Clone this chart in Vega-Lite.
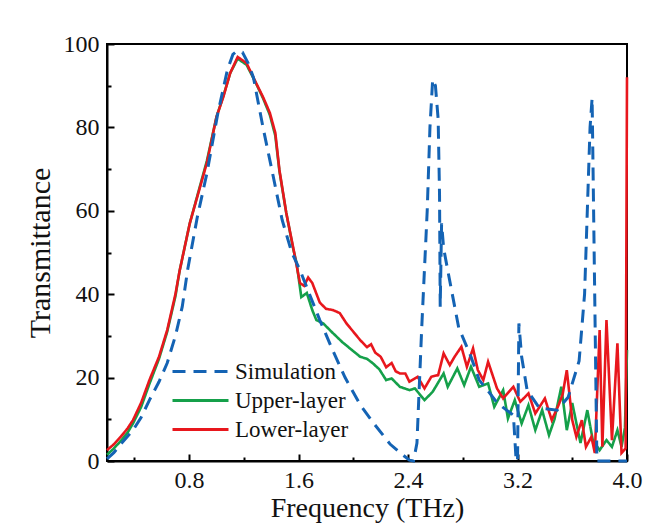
{
  "$schema": "https://vega.github.io/schema/vega-lite/v6.json",
  "width": 520,
  "height": 417,
  "autosize": {"type": "none"},
  "padding": {"left": 107, "top": 44, "right": 27, "bottom": 71},
  "background": "white",
  "config": {
    "font": "Liberation Serif, serif",
    "view": {"stroke": "black", "strokeWidth": 2},
    "text": {"font": "Liberation Serif, serif"},
    "axis": {
      "labelFont": "Liberation Serif, serif",
      "titleFont": "Liberation Serif, serif",
      "labelColor": "#111",
      "titleColor": "#111",
      "titleFontWeight": "normal",
      "domainColor": "black",
      "domainWidth": 2,
      "tickColor": "black",
      "tickWidth": 2,
      "grid": false
    },
    "legend": {"labelFont": "Liberation Serif, serif"}
  },
  "datasets": {
    "curves": [
      {"f": 0.2, "T": 0.5, "s": "Simulation"}, {"f": 0.25, "T": 2, "s": "Simulation"}, {"f": 0.3, "T": 4, "s": "Simulation"}, {"f": 0.39, "T": 7.4, "s": "Simulation"}, {"f": 0.45, "T": 10.5, "s": "Simulation"}, {"f": 0.51, "T": 14.6, "s": "Simulation"}, {"f": 0.58, "T": 19, "s": "Simulation"}, {"f": 0.64, "T": 23.5, "s": "Simulation"}, {"f": 0.7, "T": 30, "s": "Simulation"}, {"f": 0.75, "T": 37, "s": "Simulation"}, {"f": 0.79, "T": 46, "s": "Simulation"}, {"f": 0.86, "T": 58.5, "s": "Simulation"}, {"f": 0.93, "T": 69, "s": "Simulation"}, {"f": 1.01, "T": 83.4, "s": "Simulation"}, {"f": 1.08, "T": 93.8, "s": "Simulation"}, {"f": 1.12, "T": 97.5, "s": "Simulation"}, {"f": 1.15, "T": 98.3, "s": "Simulation"}, {"f": 1.19, "T": 98, "s": "Simulation"}, {"f": 1.23, "T": 95.5, "s": "Simulation"}, {"f": 1.27, "T": 92, "s": "Simulation"}, {"f": 1.34, "T": 80, "s": "Simulation"}, {"f": 1.41, "T": 69, "s": "Simulation"}, {"f": 1.48, "T": 57.8, "s": "Simulation"}, {"f": 1.55, "T": 50, "s": "Simulation"}, {"f": 1.61, "T": 45.8, "s": "Simulation"}, {"f": 1.68, "T": 40, "s": "Simulation"}, {"f": 1.755, "T": 33.8, "s": "Simulation"}, {"f": 1.85, "T": 26.5, "s": "Simulation"}, {"f": 1.94, "T": 20, "s": "Simulation"}, {"f": 2.05, "T": 13.5, "s": "Simulation"}, {"f": 2.15, "T": 9, "s": "Simulation"}, {"f": 2.27, "T": 4, "s": "Simulation"}, {"f": 2.36, "T": 1.5, "s": "Simulation"}, {"f": 2.41, "T": 0.2, "s": "Simulation"}, {"f": 2.44, "T": 0, "s": "Simulation"}, {"f": 2.465, "T": 4.3, "s": "Simulation"}, {"f": 2.5, "T": 32, "s": "Simulation"}, {"f": 2.54, "T": 60, "s": "Simulation"}, {"f": 2.56, "T": 80, "s": "Simulation"}, {"f": 2.58, "T": 91.5, "s": "Simulation"}, {"f": 2.6, "T": 90, "s": "Simulation"}, {"f": 2.62, "T": 82, "s": "Simulation"}, {"f": 2.63, "T": 64, "s": "Simulation"}, {"f": 2.635, "T": 37, "s": "Simulation"}, {"f": 2.645, "T": 57, "s": "Simulation"}, {"f": 2.66, "T": 51, "s": "Simulation"}, {"f": 2.7, "T": 44, "s": "Simulation"}, {"f": 2.77, "T": 32, "s": "Simulation"}, {"f": 2.86, "T": 25, "s": "Simulation"}, {"f": 2.92, "T": 19.4, "s": "Simulation"}, {"f": 2.98, "T": 17, "s": "Simulation"}, {"f": 3.05, "T": 14, "s": "Simulation"}, {"f": 3.12, "T": 12.2, "s": "Simulation"}, {"f": 3.17, "T": 11, "s": "Simulation"}, {"f": 3.19, "T": 0, "s": "Simulation"}, {"f": 3.2, "T": 0, "s": "Simulation"}, {"f": 3.21, "T": 33, "s": "Simulation"}, {"f": 3.23, "T": 25, "s": "Simulation"}, {"f": 3.27, "T": 17, "s": "Simulation"}, {"f": 3.36, "T": 12.7, "s": "Simulation"}, {"f": 3.49, "T": 12.2, "s": "Simulation"}, {"f": 3.57, "T": 15.3, "s": "Simulation"}, {"f": 3.65, "T": 24, "s": "Simulation"}, {"f": 3.69, "T": 40, "s": "Simulation"}, {"f": 3.71, "T": 60, "s": "Simulation"}, {"f": 3.73, "T": 80, "s": "Simulation"}, {"f": 3.745, "T": 87, "s": "Simulation"}, {"f": 3.76, "T": 50, "s": "Simulation"}, {"f": 3.78, "T": 0, "s": "Simulation"}, {"f": 4.0, "T": 0, "s": "Simulation"},

      {"f": 0.2, "T": 1.5, "s": "Upper-layer"}, {"f": 0.25, "T": 3, "s": "Upper-layer"}, {"f": 0.3, "T": 4.8, "s": "Upper-layer"}, {"f": 0.35, "T": 6.8, "s": "Upper-layer"}, {"f": 0.39, "T": 9, "s": "Upper-layer"}, {"f": 0.45, "T": 13, "s": "Upper-layer"}, {"f": 0.51, "T": 18.5, "s": "Upper-layer"}, {"f": 0.58, "T": 24.5, "s": "Upper-layer"}, {"f": 0.64, "T": 31, "s": "Upper-layer"}, {"f": 0.7, "T": 39.5, "s": "Upper-layer"}, {"f": 0.73, "T": 45.5, "s": "Upper-layer"}, {"f": 0.805, "T": 57, "s": "Upper-layer"}, {"f": 0.88, "T": 66, "s": "Upper-layer"}, {"f": 0.93, "T": 72, "s": "Upper-layer"}, {"f": 1.0, "T": 82.5, "s": "Upper-layer"}, {"f": 1.05, "T": 87.5, "s": "Upper-layer"}, {"f": 1.1, "T": 93, "s": "Upper-layer"}, {"f": 1.155, "T": 96.5, "s": "Upper-layer"}, {"f": 1.22, "T": 95, "s": "Upper-layer"}, {"f": 1.29, "T": 90.5, "s": "Upper-layer"}, {"f": 1.34, "T": 87, "s": "Upper-layer"}, {"f": 1.39, "T": 83, "s": "Upper-layer"}, {"f": 1.43, "T": 78, "s": "Upper-layer"}, {"f": 1.46, "T": 69.5, "s": "Upper-layer"}, {"f": 1.51, "T": 59.5, "s": "Upper-layer"}, {"f": 1.56, "T": 51, "s": "Upper-layer"}, {"f": 1.585, "T": 47.5, "s": "Upper-layer"}, {"f": 1.62, "T": 39.3, "s": "Upper-layer"}, {"f": 1.66, "T": 40.3, "s": "Upper-layer"}, {"f": 1.7, "T": 36.2, "s": "Upper-layer"}, {"f": 1.73, "T": 33.8, "s": "Upper-layer"}, {"f": 1.78, "T": 33, "s": "Upper-layer"}, {"f": 1.85, "T": 30.7, "s": "Upper-layer"}, {"f": 1.92, "T": 28.5, "s": "Upper-layer"}, {"f": 1.99, "T": 26.6, "s": "Upper-layer"}, {"f": 2.05, "T": 25, "s": "Upper-layer"}, {"f": 2.1, "T": 24.5, "s": "Upper-layer"}, {"f": 2.14, "T": 23.5, "s": "Upper-layer"}, {"f": 2.19, "T": 22, "s": "Upper-layer"}, {"f": 2.24, "T": 19.4, "s": "Upper-layer"}, {"f": 2.28, "T": 19.8, "s": "Upper-layer"}, {"f": 2.34, "T": 17.8, "s": "Upper-layer"}, {"f": 2.41, "T": 17, "s": "Upper-layer"}, {"f": 2.45, "T": 17.4, "s": "Upper-layer"}, {"f": 2.52, "T": 14.6, "s": "Upper-layer"}, {"f": 2.58, "T": 16.6, "s": "Upper-layer"}, {"f": 2.66, "T": 21, "s": "Upper-layer"}, {"f": 2.69, "T": 17.8, "s": "Upper-layer"}, {"f": 2.76, "T": 22.2, "s": "Upper-layer"}, {"f": 2.81, "T": 18.2, "s": "Upper-layer"}, {"f": 2.86, "T": 22.6, "s": "Upper-layer"}, {"f": 2.92, "T": 17.8, "s": "Upper-layer"}, {"f": 2.985, "T": 18.6, "s": "Upper-layer"}, {"f": 3.03, "T": 13, "s": "Upper-layer"}, {"f": 3.095, "T": 17, "s": "Upper-layer"}, {"f": 3.13, "T": 10.2, "s": "Upper-layer"}, {"f": 3.18, "T": 14.6, "s": "Upper-layer"}, {"f": 3.23, "T": 9, "s": "Upper-layer"}, {"f": 3.28, "T": 13.4, "s": "Upper-layer"}, {"f": 3.33, "T": 7.4, "s": "Upper-layer"}, {"f": 3.38, "T": 12.2, "s": "Upper-layer"}, {"f": 3.43, "T": 6.2, "s": "Upper-layer"}, {"f": 3.47, "T": 10, "s": "Upper-layer"}, {"f": 3.52, "T": 17.8, "s": "Upper-layer"}, {"f": 3.56, "T": 7.4, "s": "Upper-layer"}, {"f": 3.6, "T": 13.9, "s": "Upper-layer"}, {"f": 3.66, "T": 4.3, "s": "Upper-layer"}, {"f": 3.71, "T": 12.2, "s": "Upper-layer"}, {"f": 3.75, "T": 5, "s": "Upper-layer"}, {"f": 3.8, "T": 2.6, "s": "Upper-layer"}, {"f": 3.85, "T": 5, "s": "Upper-layer"}, {"f": 3.89, "T": 3.4, "s": "Upper-layer"}, {"f": 3.93, "T": 7.4, "s": "Upper-layer"}, {"f": 3.96, "T": 3.4, "s": "Upper-layer"}, {"f": 3.985, "T": 8, "s": "Upper-layer"}, {"f": 4.0, "T": 26.6, "s": "Upper-layer"},

      {"f": 0.2, "T": 2.6, "s": "Lower-layer"}, {"f": 0.25, "T": 4, "s": "Lower-layer"}, {"f": 0.3, "T": 5.8, "s": "Lower-layer"}, {"f": 0.35, "T": 7.8, "s": "Lower-layer"}, {"f": 0.39, "T": 9.8, "s": "Lower-layer"}, {"f": 0.45, "T": 14, "s": "Lower-layer"}, {"f": 0.51, "T": 19.4, "s": "Lower-layer"}, {"f": 0.58, "T": 25, "s": "Lower-layer"}, {"f": 0.64, "T": 31.4, "s": "Lower-layer"}, {"f": 0.7, "T": 40, "s": "Lower-layer"}, {"f": 0.73, "T": 45.5, "s": "Lower-layer"}, {"f": 0.805, "T": 57, "s": "Lower-layer"}, {"f": 0.88, "T": 65.7, "s": "Lower-layer"}, {"f": 0.93, "T": 71.5, "s": "Lower-layer"}, {"f": 1.0, "T": 82.5, "s": "Lower-layer"}, {"f": 1.05, "T": 87.3, "s": "Lower-layer"}, {"f": 1.1, "T": 93, "s": "Lower-layer"}, {"f": 1.155, "T": 96.9, "s": "Lower-layer"}, {"f": 1.22, "T": 95.4, "s": "Lower-layer"}, {"f": 1.29, "T": 90.6, "s": "Lower-layer"}, {"f": 1.34, "T": 87.3, "s": "Lower-layer"}, {"f": 1.39, "T": 83.5, "s": "Lower-layer"}, {"f": 1.43, "T": 78.7, "s": "Lower-layer"}, {"f": 1.46, "T": 69.8, "s": "Lower-layer"}, {"f": 1.51, "T": 59.5, "s": "Lower-layer"}, {"f": 1.56, "T": 51.3, "s": "Lower-layer"}, {"f": 1.61, "T": 42.7, "s": "Lower-layer"}, {"f": 1.64, "T": 42, "s": "Lower-layer"}, {"f": 1.67, "T": 44, "s": "Lower-layer"}, {"f": 1.7, "T": 42.7, "s": "Lower-layer"}, {"f": 1.755, "T": 38, "s": "Lower-layer"}, {"f": 1.8, "T": 36.5, "s": "Lower-layer"}, {"f": 1.85, "T": 36.2, "s": "Lower-layer"}, {"f": 1.9, "T": 35.5, "s": "Lower-layer"}, {"f": 1.95, "T": 33, "s": "Lower-layer"}, {"f": 2.0, "T": 31, "s": "Lower-layer"}, {"f": 2.05, "T": 29, "s": "Lower-layer"}, {"f": 2.1, "T": 27.3, "s": "Lower-layer"}, {"f": 2.13, "T": 28, "s": "Lower-layer"}, {"f": 2.16, "T": 26, "s": "Lower-layer"}, {"f": 2.2, "T": 25, "s": "Lower-layer"}, {"f": 2.24, "T": 22.5, "s": "Lower-layer"}, {"f": 2.28, "T": 23.5, "s": "Lower-layer"}, {"f": 2.31, "T": 21.5, "s": "Lower-layer"}, {"f": 2.34, "T": 21, "s": "Lower-layer"}, {"f": 2.38, "T": 21, "s": "Lower-layer"}, {"f": 2.41, "T": 19, "s": "Lower-layer"}, {"f": 2.47, "T": 20.2, "s": "Lower-layer"}, {"f": 2.52, "T": 17.4, "s": "Lower-layer"}, {"f": 2.57, "T": 20.2, "s": "Lower-layer"}, {"f": 2.62, "T": 20.6, "s": "Lower-layer"}, {"f": 2.66, "T": 25.8, "s": "Lower-layer"}, {"f": 2.705, "T": 23, "s": "Lower-layer"}, {"f": 2.74, "T": 25, "s": "Lower-layer"}, {"f": 2.79, "T": 27.4, "s": "Lower-layer"}, {"f": 2.83, "T": 22.6, "s": "Lower-layer"}, {"f": 2.875, "T": 27, "s": "Lower-layer"}, {"f": 2.91, "T": 21.8, "s": "Lower-layer"}, {"f": 2.95, "T": 19.4, "s": "Lower-layer"}, {"f": 2.985, "T": 23.8, "s": "Lower-layer"}, {"f": 3.05, "T": 17.4, "s": "Lower-layer"}, {"f": 3.095, "T": 15, "s": "Lower-layer"}, {"f": 3.17, "T": 17.8, "s": "Lower-layer"}, {"f": 3.22, "T": 14.2, "s": "Lower-layer"}, {"f": 3.28, "T": 16.2, "s": "Lower-layer"}, {"f": 3.33, "T": 11.4, "s": "Lower-layer"}, {"f": 3.4, "T": 15, "s": "Lower-layer"}, {"f": 3.45, "T": 9.8, "s": "Lower-layer"}, {"f": 3.5, "T": 13.4, "s": "Lower-layer"}, {"f": 3.53, "T": 16, "s": "Lower-layer"}, {"f": 3.56, "T": 21.8, "s": "Lower-layer"}, {"f": 3.6, "T": 9.8, "s": "Lower-layer"}, {"f": 3.63, "T": 5.8, "s": "Lower-layer"}, {"f": 3.67, "T": 9.8, "s": "Lower-layer"}, {"f": 3.7, "T": 3.4, "s": "Lower-layer"}, {"f": 3.74, "T": 5.8, "s": "Lower-layer"}, {"f": 3.765, "T": 1.9, "s": "Lower-layer"}, {"f": 3.8, "T": 31.4, "s": "Lower-layer"}, {"f": 3.82, "T": 3.4, "s": "Lower-layer"}, {"f": 3.85, "T": 33.8, "s": "Lower-layer"}, {"f": 3.89, "T": 5, "s": "Lower-layer"}, {"f": 3.93, "T": 28.2, "s": "Lower-layer"}, {"f": 3.96, "T": 1.9, "s": "Lower-layer"}, {"f": 3.99, "T": 3, "s": "Lower-layer"}, {"f": 4.0, "T": 92, "s": "Lower-layer"}
    ]
  },
  "data": {"name": "curves"},
  "encoding": {
    "x": {
      "field": "f", "type": "quantitative",
      "scale": {"domain": [0.2, 4.0], "nice": false, "zero": false},
      "axis": {
        "title": "Frequency (THz)",
        "values": [0.4, 0.8, 1.2, 1.6, 2.0, 2.4, 2.8, 3.2, 3.6, 4.0],
        "labelExpr": "(round(datum.value*10) % 8 == 0) ? format(datum.value, '.1f') : ''",
        "tickSize": {"condition": {"test": "round(datum.value*10) % 8 == 0", "value": -7}, "value": -4},
        "labelPadding": 14,
        "labelFont": "Liberation Serif, serif",
        "titleFont": "Liberation Serif, serif",
        "labelFontSize": 24,
        "labelFlush": false,
        "titleFontSize": 28,
        "titlePadding": 2
      }
    },
    "y": {
      "field": "T", "type": "quantitative",
      "scale": {"domain": [0, 100], "nice": false},
      "axis": {
        "title": "Transmittance",
        "values": [0, 10, 20, 30, 40, 50, 60, 70, 80, 90, 100],
        "labelExpr": "datum.value % 20 == 0 ? datum.label : ''",
        "tickSize": {"condition": {"test": "datum.value % 20 == 0", "value": -7}, "value": -4},
        "labelPadding": 15,
        "labelFont": "Liberation Serif, serif",
        "titleFont": "Liberation Serif, serif",
        "labelFontSize": 24,
        "labelFlush": false,
        "titleFontSize": 30,
        "titlePadding": 8
      }
    },
    "color": {
      "field": "s", "type": "nominal",
      "scale": {"domain": ["Simulation", "Upper-layer", "Lower-layer"], "range": ["#1463b4", "#15a04a", "#e8171d"]},
      "legend": {
        "title": null,
        "orient": "none",
        "legendX": 64,
        "legendY": 313,
        "symbolType": "stroke",
        "symbolSize": 3136,
        "symbolStrokeWidth": 3,
        "clipHeight": 29,
        "labelFont": "Liberation Serif, serif",
        "labelFontSize": 23,
        "labelColor": "#111",
        "labelOffset": 5,
        "rowPadding": 0
      }
    },
    "strokeDash": {
      "field": "s", "type": "nominal",
      "scale": {"domain": ["Simulation", "Upper-layer", "Lower-layer"], "range": [[13, 8], [1, 0], [1, 0]]},
      "legend": null
    }
  },
  "layer": [
    {"transform": [{"filter": "datum.s == 'Upper-layer'"}], "mark": {"type": "line", "strokeWidth": 2.6}},
    {"transform": [{"filter": "datum.s == 'Lower-layer'"}], "mark": {"type": "line", "strokeWidth": 2.6}},
    {"transform": [{"filter": "datum.s == 'Simulation'"}], "mark": {"type": "line", "strokeWidth": 3}}
  ]
}
